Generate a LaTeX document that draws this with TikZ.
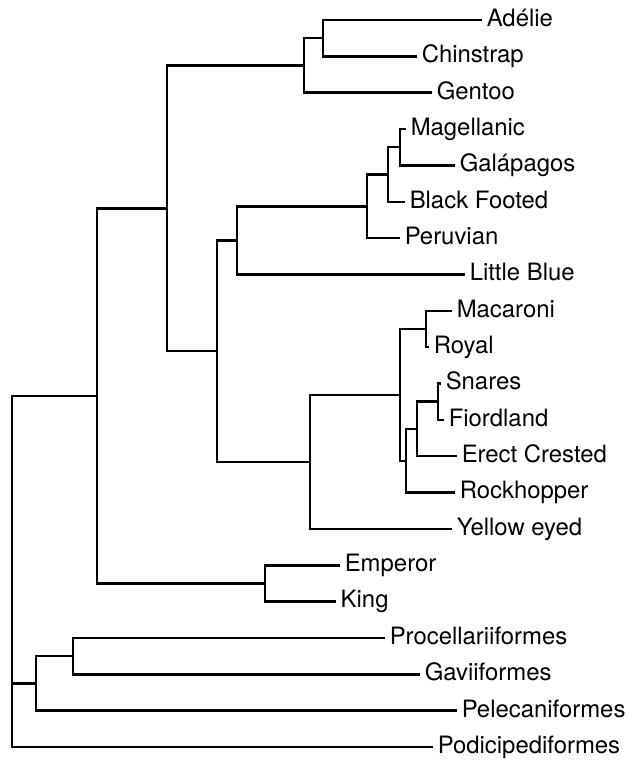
\documentclass[tikz,border=0pt]{standalone}
\usepackage{fontspec}
\setmainfont{TeX Gyre Heros}

\begin{document}
\begin{tikzpicture}[x=0.02cm,y={(0cm,-0.02cm)},line width=1.4pt,
	taxon/.style={anchor=west,inner sep=2pt,text height=.72em,text depth=0pt,font=\fontsize{13.6}{16}\selectfont}]
	\useasboundingbox (0,0) rectangle (628,760);

	\node [taxon](adelie) at (482,20) {Adélie};
	\node [taxon](chinstrap) at (417,56.4) {Chinstrap};
	\node [taxon](gentoo) at (432,92.7) {Gentoo};
	\node [taxon](magellanic) at (406,129) {Magellanic};
	\node [taxon](galapagos) at (455,165.4) {Galápagos};
	\node [taxon](blackfooted) at (405,201.8) {Black Footed};
	\node [taxon](peruvian) at (400,238.1) {Peruvian};
	\node [taxon](littleblue) at (465,274.5) {Little Blue};
	\node [taxon](macaroni) at (452,310.8) {Macaroni};
	\node [taxon](royal) at (429,347.2) {Royal};
	\node [taxon](snares) at (441,383.5) {Snares};
	\node [taxon](fiordland) at (444,419.9) {Fiordland};
	\node [taxon](erectcrested) at (457,456.2) {Erect Crested};
	\node [taxon](rockhopper) at (455,492.6) {Rockhopper};
	\node [taxon](yelloweyed) at (452,528.9) {Yellow eyed};
	\node [taxon](emperor) at (340,565.3) {Emperor};
	\node [taxon](king) at (336,601.6) {King};
	\node [taxon](procellariiformes) at (385,638) {Procellariiformes};
	\node [taxon](gaviiformes) at (420,674.3) {Gaviiformes};
	\node [taxon](pelecaniformes) at (457,710.7) {Pelecaniformes};
	\node [taxon](podicipediformes) at (433,747) {Podicipediformes};

	\coordinate (adchin) at (323,38.2);
	\coordinate (pygos) at (304,65.5);
	\coordinate (sph3) at (400,147.2);
	\coordinate (sph2) at (388,174.5);
	\coordinate (sph1) at (367,206.3);
	\coordinate (sph) at (237,240.4);
	\coordinate (macroy) at (426,329);
	\coordinate (snfi) at (438,401.7);
	\coordinate (eud3) at (417,429);
	\coordinate (eud2) at (406,460.8);
	\coordinate (eud1) at (400,394.9);
	\coordinate (eud) at (310,461.9);
	\coordinate (mid) at (217,351.2);
	\coordinate (core) at (167,208.3);
	\coordinate (apten) at (265,583.5);
	\coordinate (sphen) at (97,395.9);
	\coordinate (procgav) at (73,656.2);
	\coordinate (outg) at (36,683.4);
	\coordinate (root) at (12,683.4);

	\draw (adelie.west) -| (adchin) |- (chinstrap.west);
	\draw (adchin) -| (pygos) |- (gentoo.west);
	\draw (pygos) -| (core) |- (mid);
	\draw (magellanic.west) -| (sph3) |- (galapagos.west);
	\draw (sph3) -| (sph2) |- (blackfooted.west);
	\draw (sph2) -| (sph1) |- (peruvian.west);
	\draw (sph1) -| (sph) |- (littleblue.west);
	\draw (sph) -| (mid) |- (eud);
	\draw (macaroni.west) -| (macroy) |- (royal.west);
	\draw (snares.west) -| (snfi) |- (fiordland.west);
	\draw (snfi) -| (eud3) |- (erectcrested.west);
	\draw (eud3) -| (eud2) |- (rockhopper.west);
	\draw (macroy) -| (eud1) |- (eud2);
	\draw (eud1) -| (eud) |- (yelloweyed.west);
	\draw (emperor.west) -| (apten) |- (king.west);
	\draw (core) -| (sphen) |- (apten);
	\draw (sphen) -| (root) |- (podicipediformes.west);
	\draw (root) -- (outg);
	\draw (procellariiformes.west) -| (procgav) |- (gaviiformes.west);
	\draw (procgav) -| (outg) |- (pelecaniformes.west);
\end{tikzpicture}
\end{document}
